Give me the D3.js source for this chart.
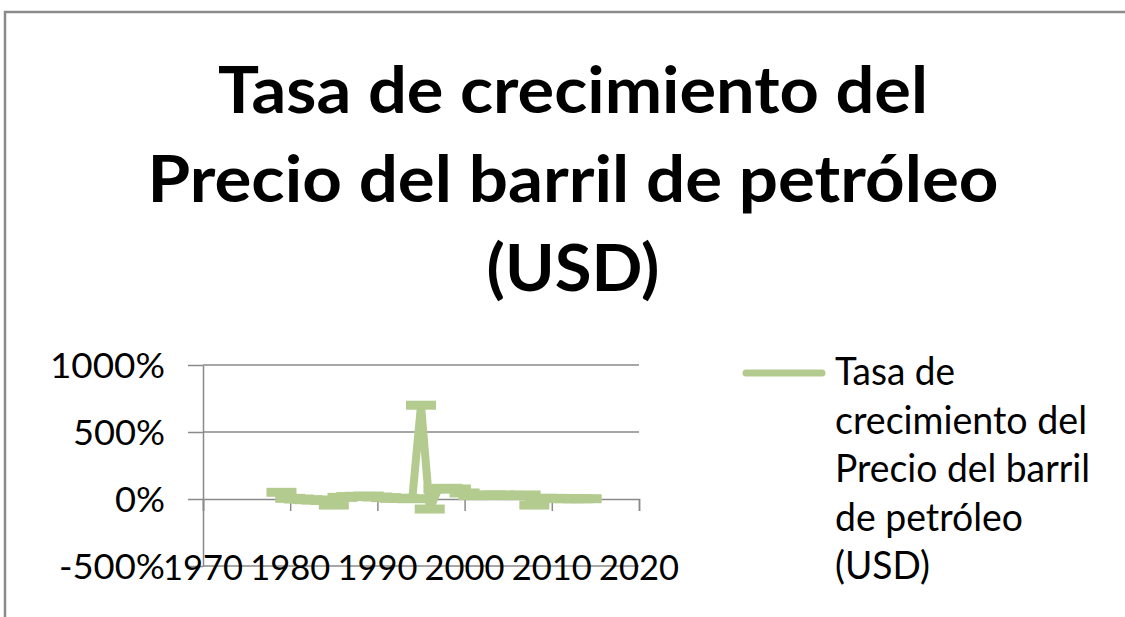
<!DOCTYPE html>
<html>
<head>
<meta charset="utf-8">
<script src="https://cdn.jsdelivr.net/npm/d3@7"></script>
<style>
  html, body { margin: 0; padding: 0; background: #ffffff; }
  svg { display: block; }
</style>
</head>
<body>
<svg id="chart" width="1125" height="617"></svg>
<script>
// Annual growth rate of the oil barrel price (USD), in percent
const years  = [1979, 1980, 1981, 1982, 1983, 1984, 1985, 1986, 1987, 1988,
                1989, 1990, 1991, 1992, 1993, 1994, 1995, 1996, 1997, 1998,
                1999, 2000, 2001, 2002, 2003, 2004, 2005, 2006, 2007, 2008,
                2009, 2010, 2011, 2012, 2013, 2014];
const growth = [50, 5, 0, -5, -8, -10, -45, 12, 18, 20,
                22, 15, 10, 5, 5, 2, 700, -75, 75, 80,
                75, 45, 25, 28, 30, 30, 28, 25, 30, -45,
                5, 5, 3, 2, 2, 2];

const xTicks = [1970, 1980, 1990, 2000, 2010, 2020];
const yTicks = [-500, 0, 500, 1000];

const titleLines  = ["Tasa de crecimiento del", "Precio del barril de petróleo", "(USD)"];
const legendLines = ["Tasa de", "crecimiento del", "Precio del barril", "de petróleo", "(USD)"];

const seriesColor = "#b3cb8e";
const axisColor = "#8a8a8a";
const labelFont = "Lato, 'Open Sans', sans-serif";

const svg = d3.select("#chart");

// chart frame
svg.append("rect")
  .attr("x", 5).attr("y", 12)
  .attr("width", 1300).attr("height", 800)
  .attr("fill", "#fff")
  .attr("stroke", axisColor)
  .attr("stroke-width", 2.5);

// title
const titleWidths = [710, 851, 173];
svg.append("g").selectAll("text")
  .data(titleLines)
  .join("text")
  .attr("x", 573)
  .attr("y", (d, i) => 113 + i * 89)
  .attr("text-anchor", "middle")
  .attr("font-family", labelFont)
  .attr("font-weight", "bold")
  .attr("font-size", 65)
  .attr("textLength", (d, i) => titleWidths[i])
  .attr("lengthAdjust", "spacingAndGlyphs")
  .attr("fill", "#000")
  .text(d => d);

// scales
const x = d3.scaleLinear().domain([1970, 2020]).range([203, 639]);
const y = d3.scaleLinear().domain([-500, 1000]).range([566, 365]);

const plot = svg.append("g");

// horizontal gridlines
plot.append("g").selectAll("line")
  .data(yTicks.filter(v => v !== 0))
  .join("line")
  .attr("x1", x(1970)).attr("x2", x(2020))
  .attr("y1", d => y(d)).attr("y2", d => y(d))
  .attr("stroke", axisColor).attr("stroke-width", 1.5);

// value axis
const yLabelWidth = { "-500": 106, "0": 50, "500": 92, "1000": 115 };
const yAxis = plot.append("g")
  .attr("transform", `translate(${x(1970)},0)`)
  .call(d3.axisLeft(y).tickValues(yTicks).tickSize(15).tickSizeOuter(0)
        .tickFormat(d => d + "%"));
yAxis.selectAll("path, line").attr("stroke", axisColor).attr("stroke-width", 1.5);
yAxis.selectAll("text")
  .attr("x", -38)
  .attr("dy", "0.36em")
  .attr("font-family", labelFont)
  .attr("font-size", 35)
  .attr("textLength", d => yLabelWidth[d])
  .attr("lengthAdjust", "spacingAndGlyphs")
  .attr("fill", "#000");

// category axis crossing at 0%
const xAxis = plot.append("g")
  .attr("transform", `translate(0,${y(0)})`)
  .call(d3.axisBottom(x).tickValues(xTicks).tickSize(12).tickSizeOuter(12)
        .tickFormat(""));
xAxis.selectAll("path, line").attr("stroke", axisColor).attr("stroke-width", 1.5);

// year labels placed at the bottom of the plot
plot.append("g").selectAll("text")
  .data(xTicks)
  .join("text")
  .attr("x", d => x(d) - 40)
  .attr("y", 580)
  .attr("font-family", labelFont)
  .attr("font-size", 35)
  .attr("textLength", 80)
  .attr("lengthAdjust", "spacingAndGlyphs")
  .attr("fill", "#000")
  .text(d => d);

// series line with dash markers
const pts = years.map((yr, i) => [yr, growth[i]]);
plot.append("path")
  .datum(pts)
  .attr("fill", "none")
  .attr("stroke", seriesColor)
  .attr("stroke-width", 8)
  .attr("stroke-linejoin", "round")
  .attr("d", d3.line().x(d => x(d[0])).y(d => y(d[1])));

plot.append("g").selectAll("rect")
  .data(pts)
  .join("rect")
  .attr("x", d => x(d[0]) - 15)
  .attr("y", d => y(d[1]) - 4.5)
  .attr("width", 30)
  .attr("height", 9)
  .attr("fill", seriesColor);

// legend
const legend = svg.append("g");
legend.append("line")
  .attr("x1", 746).attr("x2", 822)
  .attr("y1", 373).attr("y2", 373)
  .attr("stroke", seriesColor)
  .attr("stroke-width", 7)
  .attr("stroke-linecap", "round");
const legendWidths = [120, 252, 255, 188, 95];
legend.selectAll("text")
  .data(legendLines)
  .join("text")
  .attr("x", 835)
  .attr("y", (d, i) => 385 + i * 48.5)
  .attr("font-family", labelFont)
  .attr("font-size", 38)
  .attr("textLength", (d, i) => legendWidths[i])
  .attr("lengthAdjust", "spacingAndGlyphs")
  .attr("fill", "#000")
  .text(d => d);
</script>
</body>
</html>
